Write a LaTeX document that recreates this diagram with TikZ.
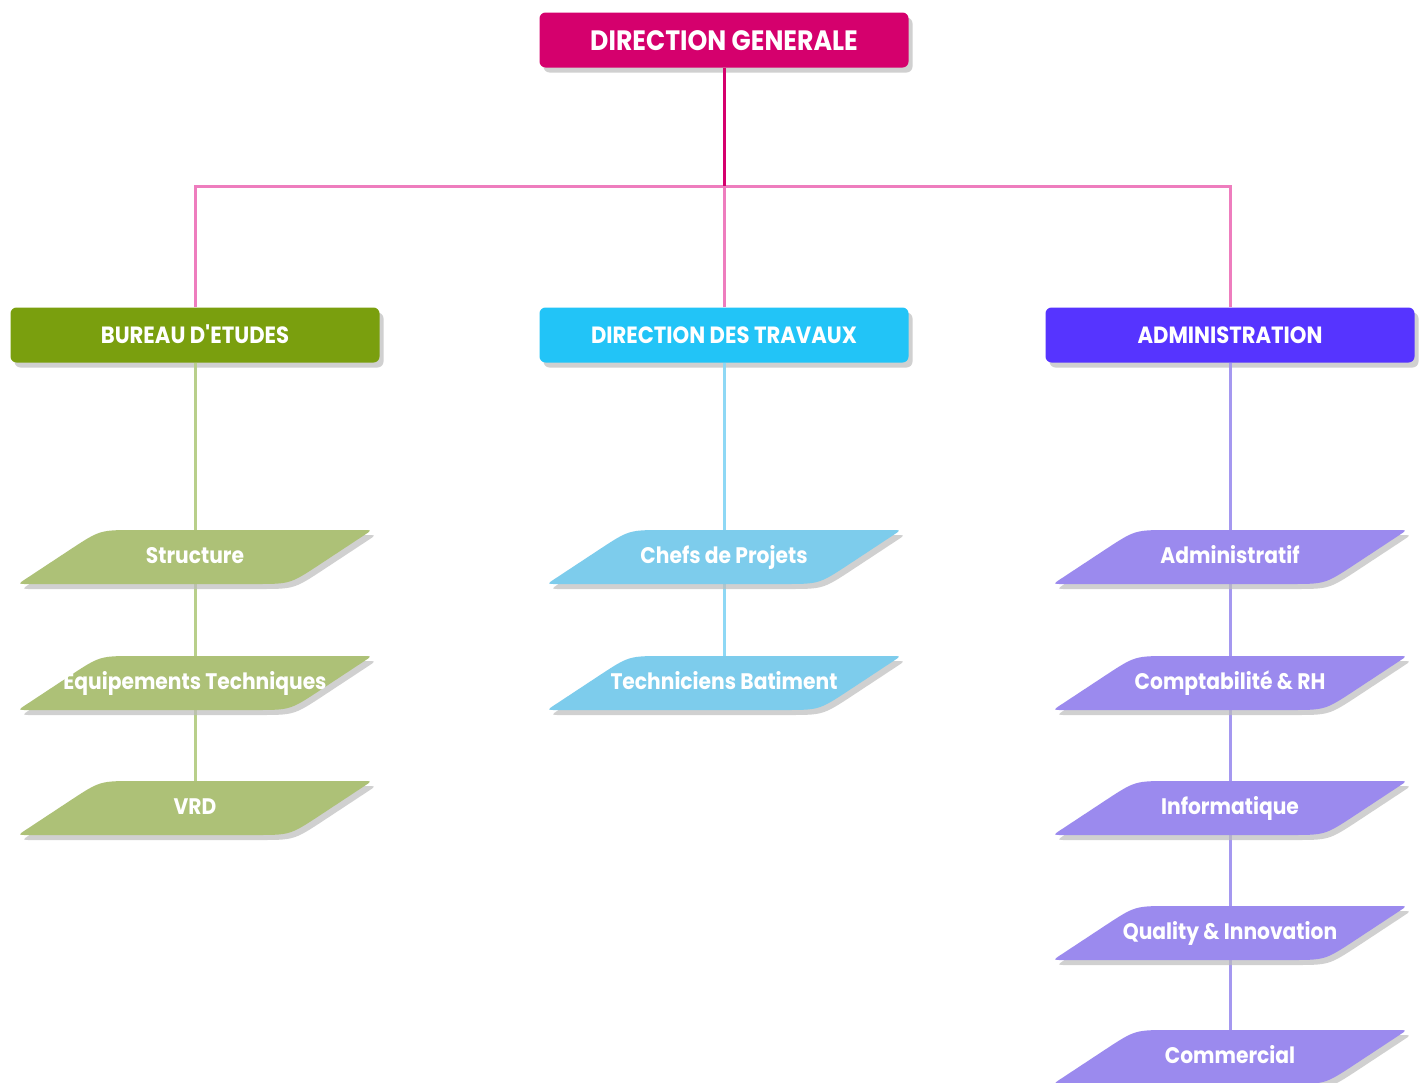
\documentclass[tikz,border=0pt]{standalone}
\usepackage{fontspec}
\setmainfont{Poppins}[FakeStretch=0.9]
\usetikzlibrary{shadows}
\definecolor{dgc}{HTML}{D5006D}
\definecolor{pinkl}{HTML}{EE7DBE}
\definecolor{grn}{HTML}{7A9F0E}
\definecolor{grnl}{HTML}{ADC177}
\definecolor{grnline}{HTML}{B8CF8A}
\definecolor{cya}{HTML}{22C4F7}
\definecolor{cyal}{HTML}{7DCCEC}
\definecolor{cyaline}{HTML}{8ED8F5}
\definecolor{pur}{HTML}{5634FF}
\definecolor{purl}{HTML}{9B8AEE}
\definecolor{purline}{HTML}{A598F0}
\definecolor{shd}{HTML}{BDBDBD}
\tikzset{
  box/.style={rounded corners=6, minimum width=369, minimum height=55, inner sep=0,
    text=white, text height=17, text depth=0, font=\fontsize{23.5}{25}\selectfont\bfseries,
    drop shadow={shadow xshift=4pt, shadow yshift=-5pt, fill=shd, opacity=0.7}},
  topbox/.style={box, text height=20, font=\fontsize{28}{30}\selectfont\bfseries},
  leaftext/.style={minimum width=200, minimum height=55, inner sep=0, text=white,
    text height=17, text depth=5, font=\fontsize{22.5}{24}\selectfont\bfseries},
  conn/.style={line width=3},
}
% parallelogram with rounded corners, centred on the origin
\newcommand\leafshape{(-168,27) .. controls (-177,27) .. (-169.5,22.05) -- (-124.3,-7.75) .. controls (-95,-27) .. (-60,-27) -- (168,-27) .. controls (177,-27) .. (169.5,-22.05) -- (124.3,7.75) .. controls (95,27) .. (60,27) -- cycle}
\newcommand\leaf[5]{%
  \begin{scope}[shift={(#2+4,#3+5)}]\fill[shd, opacity=0.7] \leafshape;\end{scope}
  \begin{scope}[shift={(#2,#3)}]\fill[#4] \leafshape;\end{scope}
  \node[leaftext] (#1) at (#2,#3) {#5};
}
\begin{document}
\begin{tikzpicture}[x=1pt,y=-1pt]
\useasboundingbox[fill=white] (0,0) rectangle (1421,1082);
\coordinate (j) at (724,186);
% level 1 and 2 boxes
\node[topbox, fill=dgc] (dg) at (724,40) {DIRECTION GENERALE};
\node[box, fill=grn] (be) at (195,335) {BUREAU D\textquotesingle ETUDES};
\node[box, fill=cya] (dt) at (724,335) {DIRECTION DES TRAVAUX};
\node[box, fill=pur] (ad) at (1230,335) {ADMINISTRATION};
% connectors
\draw[conn, pinkl] (be.north) |- (j) -| (ad.north);
\draw[conn, pinkl] (dt.north) -- (j);
\draw[conn, dgc] (dg.south) -- (j);
\draw[conn, grnline] (be.south) -- (195,808);
\draw[conn, cyaline] (dt.south) -- (724,683);
\draw[conn, purline] (ad.south) -- (1230,1057);
% leaves
\leaf{s1}{195}{557}{grnl}{Structure}
\leaf{s2}{195}{683}{grnl}{Equipements Techniques}
\leaf{s3}{195}{808}{grnl}{VRD}
\leaf{t1}{724}{557}{cyal}{Chefs de Projets}
\leaf{t2}{724}{683}{cyal}{Techniciens Batiment}
\leaf{a1}{1230}{557}{purl}{Administratif}
\leaf{a2}{1230}{683}{purl}{Comptabilité \& RH}
\leaf{a3}{1230}{808}{purl}{Informatique}
\leaf{a4}{1230}{933}{purl}{Quality \& Innovation}
\leaf{a5}{1230}{1057}{purl}{Commercial}
\end{tikzpicture}
\end{document}
